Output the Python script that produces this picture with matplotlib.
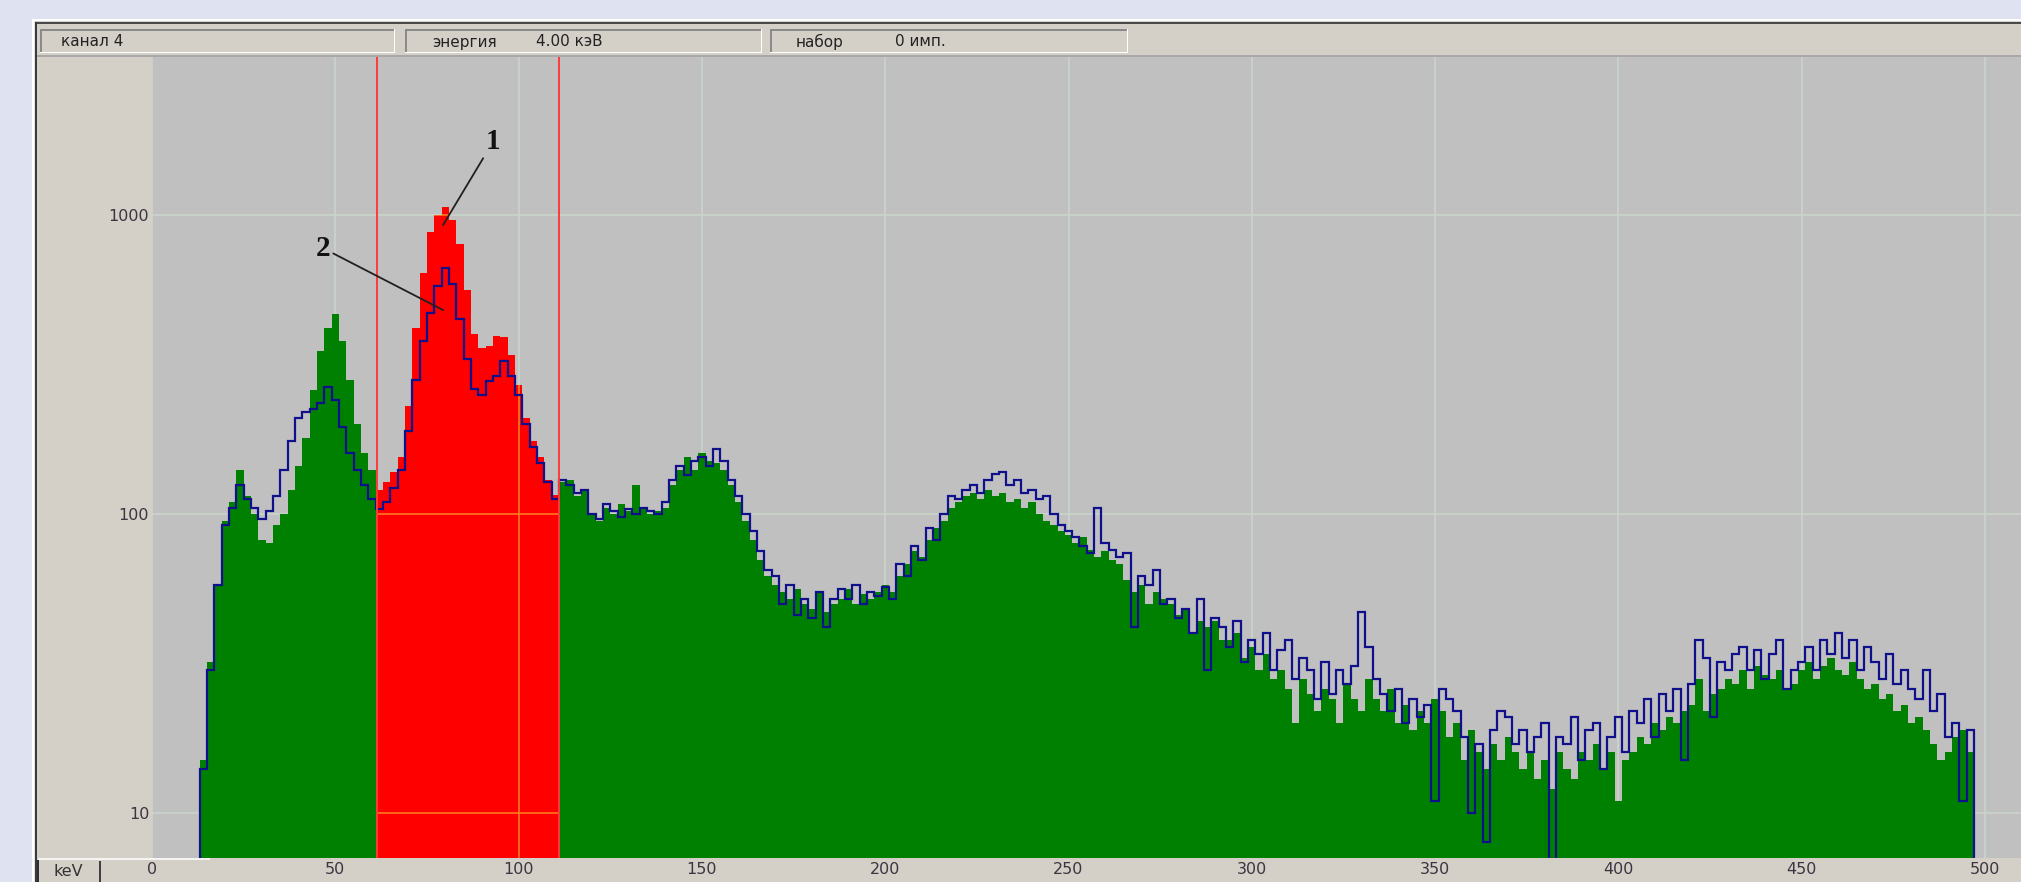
import numpy as np
import matplotlib.pyplot as plt
from matplotlib.patches import Rectangle
from matplotlib.transforms import Affine2D
from matplotlib.ticker import NullLocator

plt.rcParams['font.family'] = ['DejaVu Sans']

# spectra, 2 keV channels from 13 to 497 keV (counts per channel)
edges = np.arange(13, 499, 2)
spec1 = [
    15, 32, 58, 95, 110, 140, 115, 100, 82, 80,
    92, 100, 120, 145, 180, 260, 350, 420, 465, 380,
    280, 200, 160, 140, 120, 128, 138, 155, 230, 420,
    640, 880, 1000, 1060, 960, 800, 560, 400, 360, 365,
    395, 390, 340, 270, 210, 175, 155, 130, 116, 128,
    130, 115, 120, 100, 95, 105, 100, 108, 102, 125,
    105, 100, 102, 105, 125, 140, 155, 140, 160, 150,
    148, 140, 125, 110, 95, 82, 70, 62, 58, 55,
    52, 56, 50, 48, 55, 47, 50, 52, 56, 50,
    54, 52, 55, 58, 55, 62, 68, 75, 72, 82,
    90, 95, 105, 110, 115, 118, 112, 120, 115, 118,
    110, 112, 105, 110, 100, 95, 92, 88, 85, 80,
    84, 76, 72, 75, 70, 68, 60, 55, 58, 50,
    55, 52, 50, 46, 48, 40, 44, 42, 44, 38,
    38, 40, 33, 36, 30, 34, 28, 30, 26, 20,
    28, 25, 22, 26, 24, 20, 27, 24, 22, 28,
    24, 22, 26, 20, 23, 19, 22, 20, 24, 22,
    18, 20, 15, 19, 16, 14, 17, 15, 18, 16,
    14, 16, 13, 15, 12, 16, 14, 13, 16, 15,
    17, 14, 16, 11, 15, 16, 18, 17, 20, 19,
    21, 20, 22, 23, 28, 22, 25, 26, 28, 27,
    30, 26, 31, 29, 28, 30, 26, 27, 30, 32,
    28, 31, 33, 30, 29, 32, 28, 26, 27, 24,
    25, 22, 23, 20, 21, 19, 17, 15, 16, 18,
    19, 16,
]
spec2 = [
    14, 30, 58, 92, 105, 125, 112, 105, 96, 102,
    115, 140, 175, 210, 220, 225, 235, 265, 240, 195,
    160, 140, 125, 112, 104, 110, 122, 140, 190, 280,
    380, 470, 580, 665, 590, 450, 330, 262, 250, 278,
    290, 325, 290, 250, 200, 168, 148, 128, 112, 130,
    125, 118, 120, 100, 96, 108, 102, 98, 104, 100,
    105, 102, 100, 110, 130, 145, 135, 150, 155, 145,
    165, 150, 130, 115, 100, 88, 75, 65, 62, 50,
    58, 46, 52, 45, 55, 42, 52, 56, 52, 58,
    50, 55, 53, 57, 52, 68, 62, 78, 70, 90,
    82, 100, 115, 112, 120, 125, 118, 130, 136, 138,
    125, 130, 118, 120, 112, 115, 100, 92, 88, 84,
    78, 74, 105, 80, 76, 72, 74, 42, 62, 58,
    65, 50, 52, 45, 48, 40, 52, 30, 45, 42,
    36, 44, 32, 38, 34, 40, 30, 35, 38, 28,
    33, 30, 24, 32, 25, 30, 27, 31, 47, 36,
    28, 25, 22, 26, 20, 24, 21, 23, 11, 26,
    24, 22, 18, 10, 17, 8, 19, 22, 21, 17,
    19, 16, 18, 20, 7, 18, 17, 21, 15, 19,
    20, 14, 18, 21, 16, 22, 20, 24, 18, 25,
    22, 26, 15, 27, 38, 33, 21, 32, 30, 34,
    36, 30, 35, 28, 34, 38, 26, 30, 32, 36,
    30, 38, 34, 40, 33, 38, 30, 36, 32, 28,
    34, 27, 30, 26, 24, 30, 22, 25, 18, 20,
    11, 19,
]

roi = [61.5, 111.0]                       # window markers, keV
x_ticks = list(range(0, 501, 50))
y_ticks = [10, 100, 1000]
status_text = ['канал 4', 'энергия', '4.00 кэВ', 'набор', '0 имп.']
peak_labels = ['1', '2']

W, H = 2021, 882
fig = plt.figure(figsize=(W / 100, H / 100), dpi=100, facecolor='#dfe2f0')
# pixel coordinates, origin at top-left
px = Affine2D().scale(1 / W, -1 / H).translate(0, 1) + fig.transFigure


def box(x, y, w, h, color, z=0):
    fig.add_artist(Rectangle((x, y), w, h, transform=px, facecolor=color,
                             edgecolor='none', zorder=z))


# window frame and status bar
box(35, 19, W - 35, H - 19, '#d4d0c8')
box(32, 19, W - 32, 2, '#ffffff')
box(35, 22, W - 35, 2, '#4a4a4a')
box(32, 19, 2, H - 19, '#ffffff')
box(35, 22, 2, H - 22, '#3a3a3a')
box(37, 55, W - 37, 2, '#a8a8a8')
for x0, x1 in [(40, 395), (405, 762), (770, 1128)]:
    box(x0, 29, x1 - x0, 1.5, '#8a8a8a', 1)
    box(x0, 29, 1.5, 24, '#8a8a8a', 1)
    box(x0, 51.5, x1 - x0, 1.5, '#ffffff', 1)
    box(x1 - 1.5, 29, 1.5, 24, '#ffffff', 1)
for s, x in zip(status_text, [61, 432, 536, 796, 895]):
    fig.text(x, 42, s, transform=px, fontsize=11, color='#222222',
             va='center', ha='left')

# keV label box under the y axis
box(38, 858, 172, 2, '#f4f4f4', 1)
box(37, 860, 2, 22, '#303030', 1)
box(99, 861, 1.5, 21, '#404040', 1)
fig.text(68, 872, 'keV', transform=px, fontsize=11.5, color='#333333',
         ha='center', va='center')

# spectrum axes
ax = fig.add_axes([152 / W, 1 - 858 / H, (W - 152) / W, (858 - 57) / H])
ax.set_facecolor('#c0c0c0')
ax.set_yscale('log')
ax.set_xlim(0, (W - 152) / 3.666)
ax.set_ylim(10 ** (3 - (858 - 215) / 299), 10 ** (3 + (215 - 57) / 299))
for sp in ax.spines.values():
    sp.set_visible(False)

ax.set_xticks(x_ticks)
ax.set_xticklabels([str(t) for t in x_ticks])
ax.yaxis.set_minor_locator(NullLocator())
ax.set_yticks(y_ticks)
ax.set_yticklabels([str(t) for t in y_ticks])
ax.tick_params(axis='x', length=0, pad=3, labelsize=11.5, labelcolor='#3a3540')
ax.tick_params(axis='y', length=0, pad=2, labelsize=11.5, labelcolor='#3a3540')
ax.grid(True, color='#cad7ca', lw=1.1)
ax.set_axisbelow(True)

# spectrum 1: green, red inside the window
ax.stairs(spec1, edges, fill=True, baseline=1, color='#008000', zorder=2)
red = ax.stairs(spec1, edges, fill=True, baseline=1, color='#ff0000', zorder=2.1)
red.set_clip_path(Rectangle((roi[0], 0), roi[1] - roi[0], 1,
                            transform=ax.get_xaxis_transform()))

# grid shows through the red fill in orange
hl = ax.hlines(y_ticks, roi[0], roi[1], color='#ff7a20', lw=1.2, zorder=2.2)
vl = ax.vlines([t for t in x_ticks if roi[0] < t < roi[1]], 1, 1e4,
               color='#ff7a20', lw=1.2, zorder=2.2)
hl.set_clip_path(red)
vl.set_clip_path(red)

# spectrum 2 outline
ax.stairs(spec2, edges, baseline=1, fill=False, color='#10108c', lw=1.6, zorder=3)

for x in roi:
    ax.axvline(x, color='#ff3a3a', lw=1.4, zorder=4)

# peak labels
for lab, xy, xyt in zip(peak_labels, [(79.4, 926), (79.4, 481)],
                        [(93.0, 1755), (46.7, 774)]):
    ax.annotate(lab, xy=xy, xytext=xyt, ha='center', va='center',
                fontsize=21, fontweight='bold', family='Liberation Serif',
                color='#111111', zorder=5,
                arrowprops=dict(arrowstyle='-', color='#202020', lw=1.3,
                                shrinkA=0, shrinkB=0))

fig.savefig('out.png', dpi=100, facecolor=fig.get_facecolor())
